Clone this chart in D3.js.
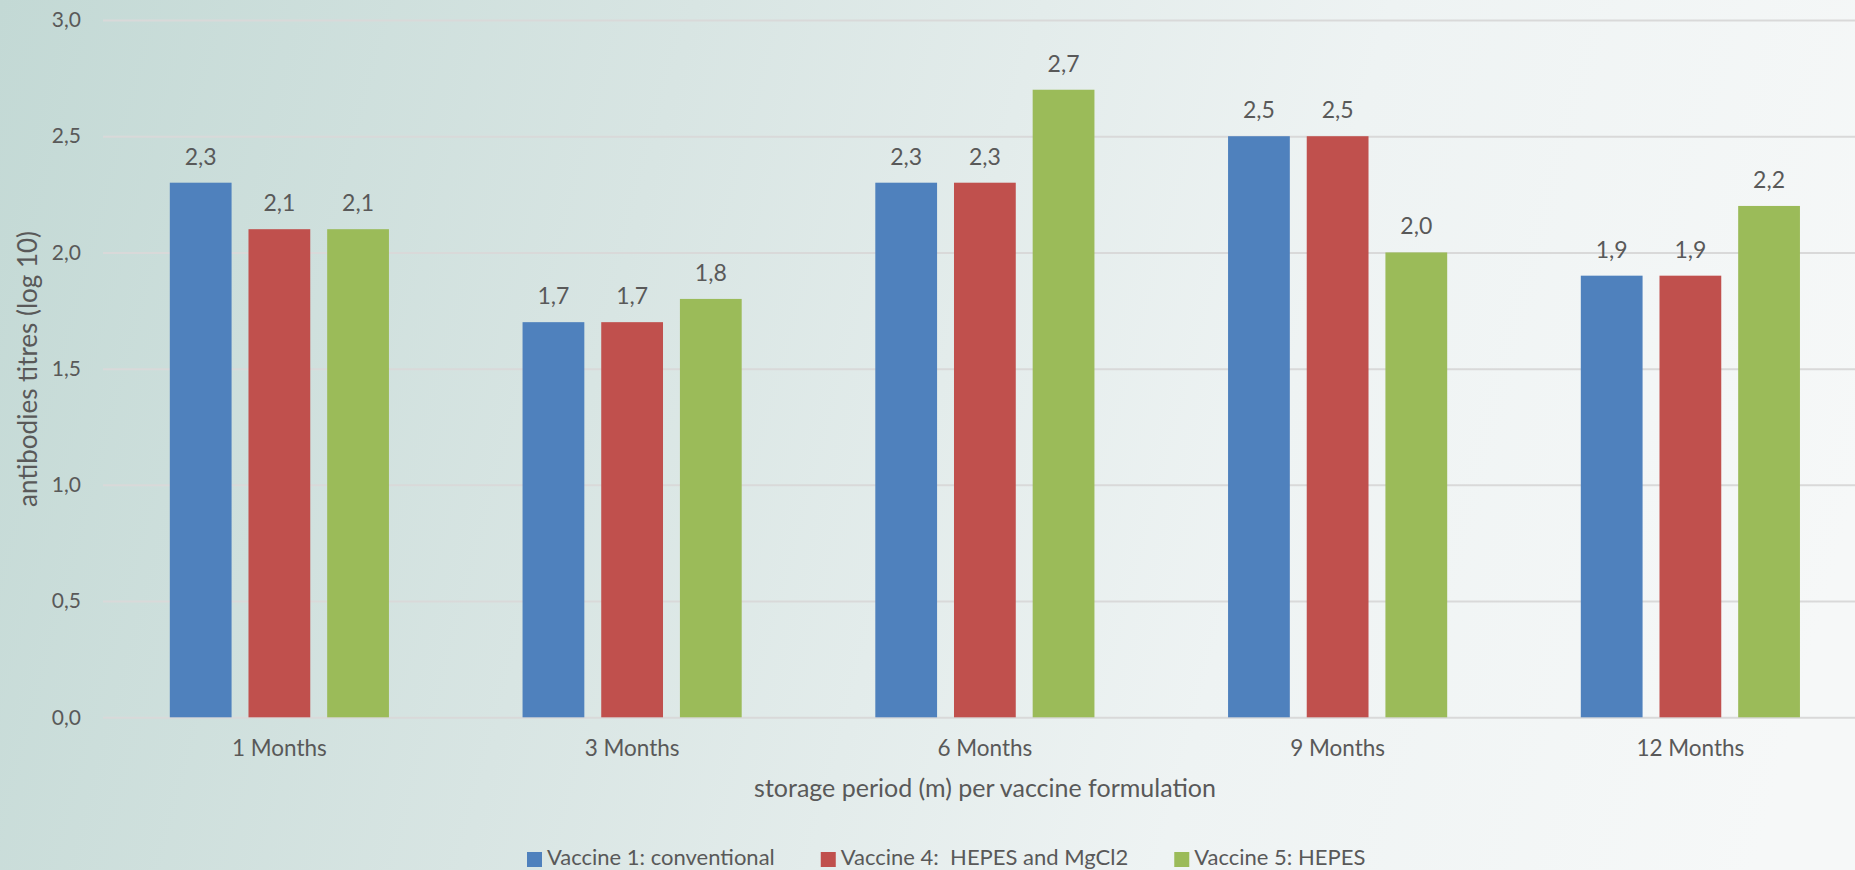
<!DOCTYPE html>
<html>
<head>
<meta charset="utf-8">
<script src="https://cdn.jsdelivr.net/npm/d3@7"></script>
<style>
  html, body { margin: 0; padding: 0; overflow: hidden; }
  svg { display: block; font-family: Lato, "Open Sans", sans-serif; }
  text { white-space: pre; }
</style>
</head>
<body>
<svg id="chart" width="1855" height="870"></svg>
<script>
// Storage periods on the x axis
const categories = ["1 Months", "3 Months", "6 Months", "9 Months", "12 Months"];
// Vaccine formulations (legend order)
const seriesNames = ["Vaccine 1: conventional", "Vaccine 4:  HEPES and MgCl2", "Vaccine 5: HEPES"];
// Antibody titres (log 10) per formulation, one value per storage period
const vaccine1 = [2.3, 1.7, 2.3, 2.5, 1.9];
const vaccine4 = [2.1, 1.7, 2.3, 2.5, 1.9];
const vaccine5 = [2.1, 1.8, 2.7, 2.0, 2.2];
const seriesValues = [vaccine1, vaccine4, vaccine5];
const colors = ["#4f81bd", "#c0504d", "#9bbb59"];
// Value axis ticks
const yTicks = [0, 0.5, 1.0, 1.5, 2.0, 2.5, 3.0];
const yTitle = "antibodies titres (log 10)";
const xTitle = "storage period (m) per vaccine formulation";

const W = 1855, H = 870;
const svg = d3.select("#chart");
const textColor = "#595959";

// soft teal-to-white backdrop
const defs = svg.append("defs");
const grad = defs.append("linearGradient")
  .attr("id", "bg").attr("gradientUnits", "userSpaceOnUse")
  .attr("x1", 0).attr("y1", 0).attr("x2", 1855).attr("y2", 500);
[[0, "#c3d9d5"], [0.35, "#d8e5e3"], [0.7, "#eef3f3"], [1, "#f6f8f8"]]
  .forEach(([o, c]) => grad.append("stop").attr("offset", o).attr("stop-color", c));
svg.append("rect").attr("width", W).attr("height", H).attr("fill", "url(#bg)");

// scales
const plotLeft = 103, bandW = 352.75;
const x0 = d3.scaleBand().domain(categories)
  .range([plotLeft, plotLeft + bandW * categories.length]).padding(0);
const x1 = d3.scaleBand().domain(d3.range(seriesNames.length))
  .range([0, x0.bandwidth()]).paddingInner(0.215).paddingOuter(0.849);
const y = d3.scaleLinear().domain([0, 3]).range([717.3, 20]);

const locale = d3.formatLocale({ decimal: ",", thousands: ".", grouping: [3], currency: ["", ""] });
const fmt = locale.format(".1f");

// gridlines + tick labels through a left axis
const yAxis = d3.axisLeft(y).tickValues(yTicks).tickFormat(fmt)
  .tickSize(-(W - plotLeft)).tickPadding(22);
const gy = svg.append("g").attr("transform", `translate(${plotLeft},0)`).call(yAxis);
gy.select(".domain").remove();
gy.selectAll(".tick line").attr("stroke", "#d9d9d9").attr("stroke-width", 2);
gy.selectAll(".tick text").attr("fill", textColor).attr("font-size", 21)
  .attr("font-family", "Lato, sans-serif");

// bars
const groups = svg.append("g").selectAll("g").data(categories).join("g")
  .attr("transform", d => `translate(${x0(d)},0)`);
const cells = groups.selectAll("g").data((c, ci) => seriesValues.map((vals, si) => ({ si, v: vals[ci] })))
  .join("g");
cells.append("rect")
  .attr("x", d => x1(d.si)).attr("width", x1.bandwidth())
  .attr("y", d => y(d.v)).attr("height", d => y(0) - y(d.v))
  .attr("fill", d => colors[d.si]);
cells.append("text")
  .attr("x", d => x1(d.si) + x1.bandwidth() / 2)
  .attr("y", d => y(d.v) - 18)
  .attr("text-anchor", "middle").attr("fill", textColor).attr("font-size", 23)
  .text(d => fmt(d.v));

// category labels
const xAxis = d3.axisBottom(x0).tickSize(0).tickPadding(0);
const gx = svg.append("g").attr("transform", `translate(0,${y(0)})`).call(xAxis);
gx.select(".domain").remove();
gx.selectAll(".tick text").attr("fill", textColor).attr("font-size", 22.5)
  .attr("font-family", "Lato, sans-serif").attr("dy", null).attr("y", 39);

// axis titles
svg.append("text").attr("x", 985).attr("y", 797).attr("text-anchor", "middle")
  .attr("fill", textColor).attr("font-size", 25).text(xTitle);
svg.append("text").attr("transform", "translate(37,369) rotate(-90)")
  .attr("text-anchor", "middle").attr("fill", textColor).attr("font-size", 26).text(yTitle);

// legend
const legend = svg.append("g");
let lx = 527;
seriesNames.forEach((name, i) => {
  legend.append("rect").attr("x", lx).attr("y", 852).attr("width", 15).attr("height", 15)
    .attr("fill", colors[i]);
  const t = legend.append("text").attr("x", lx + 20).attr("y", 865)
    .attr("fill", textColor).attr("font-size", 22).text(name);
  lx += 20 + t.node().getComputedTextLength() + 46;
});
</script>
</body>
</html>
